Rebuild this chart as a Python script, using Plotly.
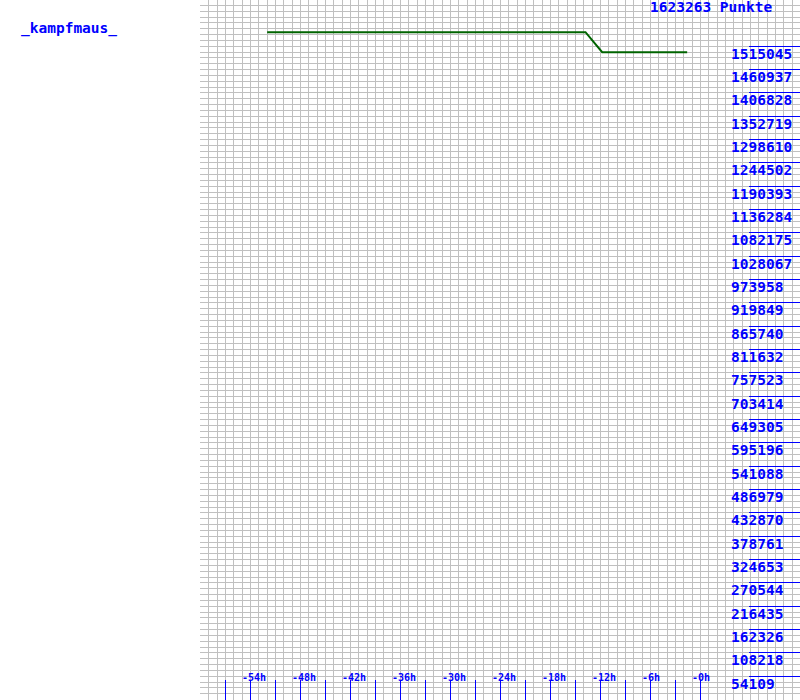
import plotly.graph_objects as go

# ---- data ----
player_name = "_kampfmaus_"
total_points = 1623263
title_text = "1623263 Punkte"

hours = [-52, -13.8, -11.8, -1.6]
points = [1547400, 1547400, 1501000, 1501000]

y_tick_values = [54109, 108218, 162326, 216435, 270544, 324653, 378761, 432870,
                 486979, 541088, 595196, 649305, 703414, 757523, 811632, 865740,
                 919849, 973958, 1028067, 1082175, 1136284, 1190393, 1244502,
                 1298610, 1352719, 1406828, 1460937, 1515045]
y_tick_labels = [str(v) for v in y_tick_values]

x_tick_hours = [-57, -54, -51, -48, -45, -42, -39, -36, -33, -30, -27, -24,
                -21, -18, -15, -12, -9, -6, -3, 0]
x_label_hours = [-54, -48, -42, -36, -30, -24, -18, -12, -6, 0]
x_label_texts = ["-54h", "-48h", "-42h", "-36h", "-30h", "-24h", "-18h",
                 "-12h", "-6h", "-0h"]

BLUE = "#0000ff"
GRID = "#c0c0c0"
FONT = "DejaVu Sans Mono"

# half-pixel offsets so 1px lines land on single pixel rows/columns
x_half_px = 0.5 * 72 / 600
y_half_px = 0.5 * total_points / 700

fig = go.Figure()
fig.add_trace(go.Scatter(x=hours, y=points, mode="lines",
                         line=dict(color="#006400", width=2),
                         showlegend=False, hoverinfo="skip"))

fig.update_layout(
    width=800, height=700,
    margin=dict(l=200, r=0, t=0, b=0),
    paper_bgcolor="white", plot_bgcolor="white",
    showlegend=False,
    xaxis=dict(range=[-60 - x_half_px, 12 - x_half_px], tickvals=x_tick_hours,
               showticklabels=False,
               ticks="inside", ticklen=20, tickwidth=1, tickcolor=BLUE,
               showgrid=True, gridcolor=GRID, gridwidth=1,
               zeroline=False, showline=False, fixedrange=True,
               minor=dict(tick0=0, dtick=1, showgrid=True, gridcolor=GRID,
                          gridwidth=1, ticks="")),
    yaxis=dict(range=[-y_half_px, total_points - y_half_px], side="right",
               tickvals=y_tick_values,
               showticklabels=False, ticks="inside", ticklen=51, tickwidth=1,
               tickcolor=BLUE, showgrid=True, gridcolor=GRID, gridwidth=1,
               zeroline=False, showline=False, fixedrange=True,
               minor=dict(tick0=0, dtick=total_points / 120, showgrid=True,
                          gridcolor=GRID, gridwidth=1, ticks="")),
)

annotations = []
for v, t in zip(y_tick_values, y_tick_labels):
    annotations.append(dict(xref="paper", x=(729 - 200) / 600, xanchor="left",
                            yref="y", y=v, yanchor="middle", yshift=-7.5,
                            text="<b>" + t + "</b>", showarrow=False,
                            font=dict(family=FONT, size=14.5, color=BLUE)))
for h, t in zip(x_label_hours, x_label_texts):
    annotations.append(dict(xref="x", x=h, xanchor="left", xshift=-11,
                            yref="paper", y=0, yanchor="middle", yshift=23,
                            text="<b>" + t + "</b>", showarrow=False,
                            font=dict(family=FONT, size=10, color=BLUE)))
annotations.append(dict(xref="paper", x=(774 - 200) / 600, xanchor="right",
                        yref="paper", y=1 - 6.5 / 700, yanchor="middle",
                        text="<b>" + title_text + "</b>", showarrow=False,
                        font=dict(family=FONT, size=14.5, color=BLUE)))
annotations.append(dict(xref="paper", x=(19 - 200) / 600, xanchor="left",
                        yref="paper", y=1 - 28 / 700, yanchor="middle",
                        text="<b>" + player_name + "</b>", showarrow=False,
                        font=dict(family=FONT, size=14.5, color=BLUE)))
fig.update_layout(annotations=annotations)

fig.write_html("out.html")
